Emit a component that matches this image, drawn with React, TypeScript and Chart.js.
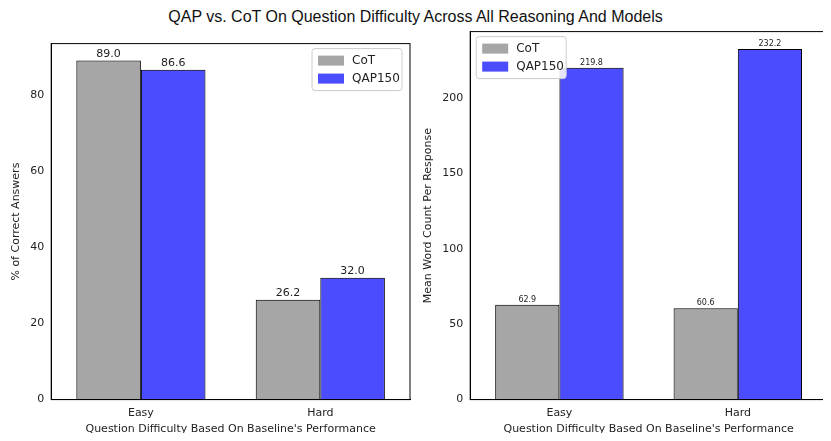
import { useEffect, useRef } from 'react';
import { Chart, registerables, ChartConfiguration, Plugin } from 'chart.js';

Chart.register(...registerables);

const difficulty = ['Easy', 'Hard'];
const accuracyCoT = [89.0, 26.2];
const accuracyQAP = [86.6, 32.0];
const wordsCoT = [62.9, 60.6];
const wordsQAP = [219.8, 232.2];
const seriesNames = ['CoT', 'QAP150'];

const GRAY = 'rgba(128,128,128,0.7)';
const BLUE = 'rgba(0,0,255,0.7)';

// frame, value labels and in-plot legend, matplotlib style
const mplPlugin: Plugin<'bar'> = {
    id: 'mpl',
    afterDatasetsDraw(chart, _args, opts: any) {
        const { ctx, chartArea } = chart;
        ctx.save();
        ctx.strokeStyle = '#000';
        ctx.lineWidth = 1;
        ctx.strokeRect(chartArea.left, chartArea.top, chartArea.right - chartArea.left, chartArea.bottom - chartArea.top);

        ctx.fillStyle = '#222';
        ctx.font = `${opts.labelSize}px "DejaVu Sans"`;
        ctx.textAlign = 'center';
        ctx.textBaseline = 'bottom';
        chart.data.datasets.forEach((ds, i) => {
            chart.getDatasetMeta(i).data.forEach((bar: any, j) => {
                ctx.fillText((ds.data[j] as number).toFixed(1), bar.x, bar.y - 1);
            });
        });

        // legend
        const w = 90, h = 42;
        const x = opts.legendRight ? chartArea.right - w - 8 : chartArea.left + 6;
        const y = chartArea.top + 5;
        ctx.fillStyle = 'rgba(255,255,255,0.85)';
        ctx.strokeStyle = '#ccc';
        ctx.beginPath();
        ctx.roundRect(x, y, w, h, 3);
        ctx.fill();
        ctx.stroke();
        ctx.font = '12px "DejaVu Sans"';
        ctx.textAlign = 'left';
        ctx.textBaseline = 'middle';
        seriesNames.forEach((name, i) => {
            const yy = y + 12 + i * 18;
            ctx.fillStyle = i === 0 ? GRAY : BLUE;
            ctx.fillRect(x + 6, yy - 5, 26, 10);
            ctx.fillStyle = '#222';
            ctx.fillText(name, x + 40, yy);
        });
        ctx.restore();
    },
};

function makeConfig(a: number[], b: number[], max: number, yTitle: string, step: number, labelSize: number, legendRight: boolean): ChartConfiguration<'bar'> {
    return {
        type: 'bar',
        data: {
            labels: difficulty,
            datasets: [
                { label: seriesNames[0], data: a, backgroundColor: GRAY, borderColor: '#000', borderWidth: 1 },
                { label: seriesNames[1], data: b, backgroundColor: BLUE, borderColor: '#000', borderWidth: 1 },
            ],
        },
        options: {
            animation: false,
            responsive: true,
            maintainAspectRatio: false,
            categoryPercentage: 0.72,
            barPercentage: 1,
            layout: { padding: { top: 4, right: 4, left: 4 } },
            plugins: {
                legend: { display: false },
                tooltip: { enabled: false },
                mpl: { labelSize, legendRight },
            } as any,
            scales: {
                x: {
                    grid: { display: false, drawTicks: true, tickLength: 4 },
                    border: { color: '#000' },
                    ticks: { color: '#222', font: { size: 11, family: 'DejaVu Sans' } },
                    title: { display: true, text: "Question Difficulty Based On Baseline's Performance", color: '#222', font: { size: 11, family: 'DejaVu Sans' }, padding: 0 },
                },
                y: {
                    min: 0,
                    max,
                    afterBuildTicks: (s: any) => { s.ticks = s.ticks.filter((t: any) => t.value % step === 0); },
                    grid: { display: false, drawTicks: true, tickLength: 4 },
                    border: { color: '#000' },
                    ticks: { stepSize: step, color: '#222', font: { size: 11, family: 'DejaVu Sans' } },
                    title: { display: true, text: yTitle, color: '#222', font: { size: 11, family: 'DejaVu Sans' } },
                },
            },
        },
        plugins: [mplPlugin],
    };
}

function BarPanel({ config }: { config: ChartConfiguration<'bar'> }) {
    const canvasRef = useRef<HTMLCanvasElement | null>(null);
    useEffect(() => {
        if (!canvasRef.current) return;
        const chart = new Chart(canvasRef.current, config);
        return () => chart.destroy();
    }, [config]);
    return <canvas ref={canvasRef} />;
}

const leftConfig = makeConfig(accuracyCoT, accuracyQAP, 93.45, '% of Correct Answers', 20, 11, true);
const rightConfig = makeConfig(wordsCoT, wordsQAP, 243.8, 'Mean Word Count Per Response', 50, 8, false);

export default function App() {
    return (
        <div style={{ position: 'relative', width: 831, height: 441, background: '#fff', margin: -8, fontFamily: '"Liberation Sans", Arial, sans-serif' }}>
            <div style={{ position: 'absolute', top: 0, left: 0, width: 831, height: 32, lineHeight: '34px', textAlign: 'center', fontSize: 16, color: '#111' }}>
                QAP vs. CoT On Question Difficulty Across All Reasoning And Models
            </div>
            <div style={{ position: 'absolute', left: 2, top: 34, width: 412, height: 402 }}>
                <BarPanel config={leftConfig} />
            </div>
            <div style={{ position: 'absolute', left: 414, top: 22, width: 417, height: 414 }}>
                <BarPanel config={rightConfig} />
            </div>
        </div>
    );
}
